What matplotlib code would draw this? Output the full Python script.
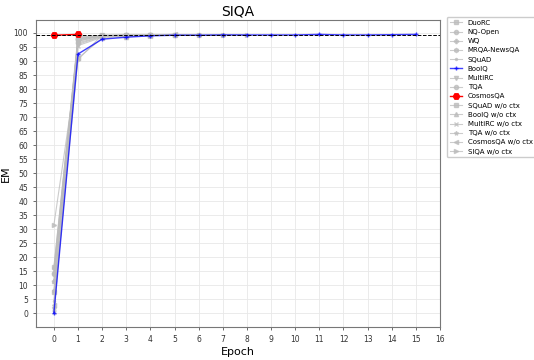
import matplotlib
matplotlib.use("Agg")
import matplotlib.pyplot as plt

names = ["DuoRC", "NQ-Open", "WQ", "MRQA-NewsQA", "SQuAD", "BoolQ", "MultiRC", "TQA",
         "CosmosQA", "SQuAD w/o ctx", "BoolQ w/o ctx", "MultiRC w/o ctx", "TQA w/o ctx",
         "CosmosQA w/o ctx", "SIQA w/o ctx"]
markers = ["s", "o", "P", "h", ".", "+", "v", "o", "H", "s", "^", "x", "*", "<", ">"]
values = [
    [16.5, 97.5, 99.2, 99.0, 99.2, 99.3],
    [14.5, 98.0, 99.0, 99.2, 99.3],
    [11.5, 96.5, 98.8, 99.1],
    [8.0, 97.0, 99.1, 99.2, 99.3, 99.3, 99.2, 99.3],
    [4.5, 98.5, 99.0, 99.2],
    [0.0, 92.5, 97.8, 98.5, 99.0, 99.2, 99.2, 99.3, 99.3, 99.3, 99.3, 99.5, 99.3, 99.3, 99.4, 99.5],
    [1.5, 96.0, 98.8],
    [14.0, 97.8, 99.0, 99.3, 99.2, 99.4, 99.3],
    [99.2, 99.5],
    [7.5, 98.2, 99.1, 99.3, 99.2],
    [11.5, 97.2, 99.0, 98.6],
    [0.5, 95.5, 98.5],
    [16.0, 98.8, 99.1, 99.2],
    [3.0, 91.0, 98.2, 98.9, 99.1, 99.6],
    [31.5, 90.5, 99.3, 98.8, 99.1, 99.4, 99.2, 99.4, 99.3],
]
baseline = 99.2
yticks = list(range(0, 101, 5))
xticks = list(range(0, 17))

fig = plt.figure(figsize=(5.34, 3.6), dpi=100)
ax = fig.add_axes([0.067, 0.091, 0.757, 0.853])

for name, mk, vals in zip(names, markers, values):
    xs = list(range(len(vals)))
    if name == "BoolQ":
        ax.plot(xs, vals, color="blue", marker=mk, markersize=3.5, linewidth=1.0, alpha=0.75, label=name, zorder=4)
    elif name == "CosmosQA":
        ax.plot(xs, vals, color="red", marker=mk, markersize=4.5, linewidth=1.0, label=name, zorder=5)
    else:
        ax.plot(xs, vals, color="#bbbbbb", marker=mk, markersize=3, linewidth=0.8, alpha=0.75, label=name, zorder=3)

ax.axhline(baseline, color="black", linestyle="--", linewidth=0.7, zorder=6)
ax.set_xticks(xticks)
ax.set_yticks(yticks)
ax.tick_params(labelsize=5.5, colors="#333333", length=2, width=0.5)
ax.grid(True, color="#e8e8e8", linewidth=0.6)
for s in ax.spines.values():
    s.set_color("#777777")
ax.set_title("SIQA", fontsize=10, pad=3)
ax.set_xlabel("Epoch", fontsize=8, labelpad=2)
ax.set_ylabel("EM", fontsize=8, labelpad=2)
ax.legend(loc="upper left", bbox_to_anchor=(1.017, 1.01), fontsize=5, frameon=True,
          borderaxespad=0, handlelength=1.8, labelspacing=0.46, framealpha=1, edgecolor="#cccccc")
fig.savefig("out.png", dpi=100)
